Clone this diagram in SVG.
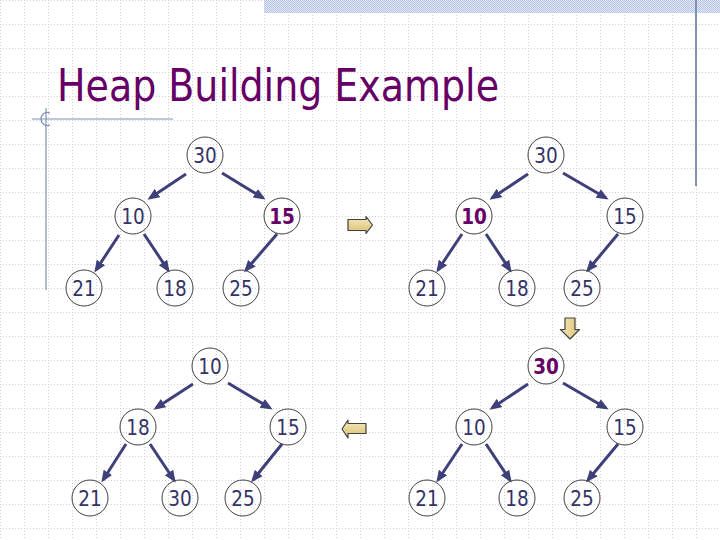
<svg xmlns="http://www.w3.org/2000/svg" width="720" height="540" viewBox="0 0 720 540">
<style>
.nd circle{fill:none;stroke:#404040;stroke-width:1}
.nd text{font-family:"DejaVu Sans Condensed","DejaVu Sans",sans-serif;font-size:20.5px;fill:#333366;text-anchor:middle}
.nd text.hl{font-weight:bold;fill:#660066}
.edges line{stroke:#3f3f7a;stroke-width:3;marker-end:url(#ah)}
.blk{stroke:#404040;stroke-width:1.2;stroke-linejoin:round}
</style>
<defs>
<pattern id="grid" width="24" height="24" patternUnits="userSpaceOnUse">
<path d="M0 0.5H24M0.5 0V24" stroke="#d0d0d0" stroke-width="1" stroke-dasharray="1 2" fill="none"/>
</pattern>
<pattern id="chk" width="2" height="2" patternUnits="userSpaceOnUse">
<rect width="2" height="2" fill="#e2e8f5"/>
<rect width="1" height="1" fill="#b4c4e2"/>
<rect x="1" y="1" width="1" height="1" fill="#b4c4e2"/>
</pattern>
<linearGradient id="yg" x1="0" y1="0" x2="0" y2="1">
<stop offset="0" stop-color="#f6ebbd"/>
<stop offset="1" stop-color="#d9c072"/>
</linearGradient>
<linearGradient id="ygh" x1="0" y1="0" x2="1" y2="0">
<stop offset="0" stop-color="#f6ebbd"/>
<stop offset="1" stop-color="#d9c072"/>
</linearGradient>
<marker id="ah" markerUnits="userSpaceOnUse" markerWidth="12" markerHeight="12" viewBox="0 0 12 10" refX="9" refY="5" orient="auto">
<path d="M0 0L12 5L0 10z" fill="#3f3f7a"/>
</marker>
</defs>
<rect width="720" height="540" fill="#ffffff"/>
<rect width="720" height="540" fill="url(#grid)"/>
<rect x="264" y="0" width="456" height="13" fill="url(#chk)"/>
<line x1="696" y1="0" x2="696" y2="186" stroke="#8090b0" stroke-width="2"/>
<g id="decor" stroke="#8090b8" stroke-width="1.2" fill="none">
<line x1="32" y1="119" x2="173" y2="119"/>
<line x1="46" y1="108" x2="46" y2="290"/>
<path d="M50 113A6.5 6.5 0 1 0 50 125"/>
</g>
<text id="title" x="57" y="101" font-family="DejaVu Sans Condensed, DejaVu Sans, sans-serif" font-size="44" fill="#660066" textLength="442" lengthAdjust="spacingAndGlyphs">Heap Building Example</text>
<g id="step-arrows">
<path class="blk" d="M348 219.5H366V216.5L372.5 225L366 233.5V230.5H348z" fill="url(#yg)"/>
<path class="blk" d="M565 318H575V329.5H579.5L570 339L560.5 329.5H565z" fill="url(#ygh)"/>
<path class="blk" d="M366 423.5H348V420L342 429L348 438V433.5H366z" fill="url(#yg)"/>
</g>
<g class="edges" id="connectors">
<line x1="186" y1="174" x2="150" y2="198"/>
<line x1="222" y1="173" x2="263" y2="198"/>
<line x1="119" y1="235" x2="96" y2="270"/>
<line x1="144" y1="234" x2="168" y2="270"/>
<line x1="277" y1="234" x2="246" y2="270"/>
<line x1="528" y1="174" x2="492" y2="198"/>
<line x1="563" y1="173" x2="606" y2="198"/>
<line x1="462" y1="234" x2="438" y2="270"/>
<line x1="486" y1="234" x2="510" y2="270"/>
<line x1="618" y1="234" x2="588" y2="270"/>
<line x1="193" y1="384" x2="156" y2="408"/>
<line x1="228" y1="383" x2="270" y2="408"/>
<line x1="126" y1="444" x2="103" y2="480"/>
<line x1="150" y1="444" x2="174" y2="480"/>
<line x1="282" y1="444" x2="253" y2="480"/>
<line x1="528" y1="384" x2="492" y2="408"/>
<line x1="563" y1="383" x2="606" y2="408"/>
<line x1="462" y1="444" x2="438" y2="480"/>
<line x1="486" y1="444" x2="510" y2="480"/>
<line x1="618" y1="444" x2="588" y2="480"/>
</g>
<g class="nd" id="t1-30"><circle cx="205" cy="155" r="18"/><text x="205" y="163">30</text></g>
<g class="nd" id="t1-10"><circle cx="133" cy="216" r="18"/><text x="133" y="224">10</text></g>
<g class="nd" id="t1-15"><circle cx="282" cy="216" r="18"/><text class="hl" x="282" y="224">15</text></g>
<g class="nd" id="t1-21"><circle cx="84" cy="288" r="18"/><text x="84" y="296">21</text></g>
<g class="nd" id="t1-18"><circle cx="175" cy="288" r="18"/><text x="175" y="296">18</text></g>
<g class="nd" id="t1-25"><circle cx="241" cy="288" r="18"/><text x="241" y="296">25</text></g>
<g class="nd" id="t2-30"><circle cx="546" cy="155" r="18"/><text x="546" y="163">30</text></g>
<g class="nd" id="t2-10"><circle cx="474" cy="216" r="18"/><text class="hl" x="474" y="224">10</text></g>
<g class="nd" id="t2-15"><circle cx="625" cy="216" r="18"/><text x="625" y="224">15</text></g>
<g class="nd" id="t2-21"><circle cx="427" cy="288" r="18"/><text x="427" y="296">21</text></g>
<g class="nd" id="t2-18"><circle cx="517" cy="288" r="18"/><text x="517" y="296">18</text></g>
<g class="nd" id="t2-25"><circle cx="582" cy="288" r="18"/><text x="582" y="296">25</text></g>
<g class="nd" id="t3-10"><circle cx="210" cy="366" r="18"/><text x="210" y="374">10</text></g>
<g class="nd" id="t3-18"><circle cx="138" cy="427" r="18"/><text x="138" y="435">18</text></g>
<g class="nd" id="t3-15"><circle cx="288" cy="427" r="18"/><text x="288" y="435">15</text></g>
<g class="nd" id="t3-21"><circle cx="90" cy="498" r="18"/><text x="90" y="506">21</text></g>
<g class="nd" id="t3-30"><circle cx="180" cy="498" r="18"/><text x="180" y="506">30</text></g>
<g class="nd" id="t3-25"><circle cx="243" cy="498" r="18"/><text x="243" y="506">25</text></g>
<g class="nd" id="t4-30"><circle cx="546" cy="366" r="18"/><text class="hl" x="546" y="374">30</text></g>
<g class="nd" id="t4-10"><circle cx="474" cy="427" r="18"/><text x="474" y="435">10</text></g>
<g class="nd" id="t4-15"><circle cx="625" cy="427" r="18"/><text x="625" y="435">15</text></g>
<g class="nd" id="t4-21"><circle cx="427" cy="498" r="18"/><text x="427" y="506">21</text></g>
<g class="nd" id="t4-18"><circle cx="517" cy="498" r="18"/><text x="517" y="506">18</text></g>
<g class="nd" id="t4-25"><circle cx="582" cy="498" r="18"/><text x="582" y="506">25</text></g>
</svg>
